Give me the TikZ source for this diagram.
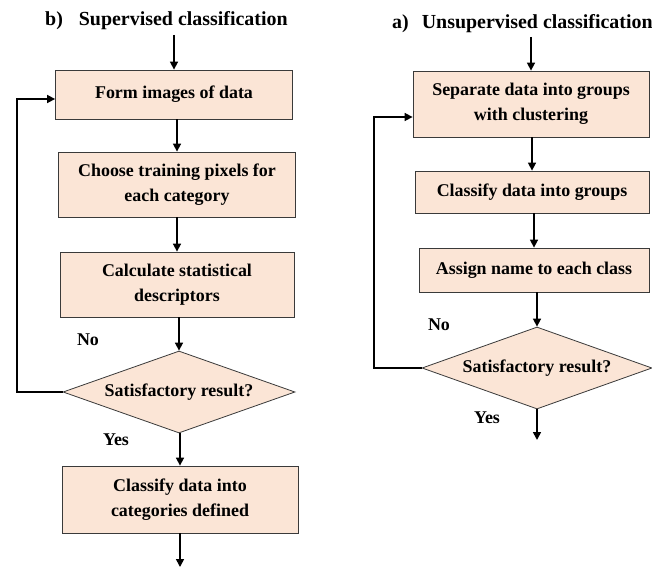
\documentclass[tikz,border=0pt]{standalone}
\usepackage{fontspec}
\setmainfont{Liberation Serif}
\usetikzlibrary{shapes.geometric,arrows.meta}
\definecolor{peach}{HTML}{FBE5D6}
\definecolor{edge}{HTML}{3A3A3A}
\begin{document}
\begin{tikzpicture}[x=1bp,y=-1bp,
  every node/.style={font=\fontsize{18}{25}\selectfont\bfseries},
  stepbox/.style={draw=edge,fill=peach,line width=0.8bp,inner sep=0pt,align=center},
  decision/.style={diamond,aspect=2.83,draw=edge,fill=peach,line width=0.8bp,inner sep=0pt,
    minimum width=232bp,minimum height=82bp},
  title/.style={anchor=base west,inner sep=0pt,font=\fontsize{20}{24}\selectfont\bfseries},
  tag/.style={inner sep=0pt},
  flow/.style={line width=1.6bp,-{Triangle[length=8bp,width=8bp]}}]
\fill[white] (0,0) rectangle (652,568);
\useasboundingbox (0,0) rectangle (652,568);

% ---------- b) supervised classification ----------
\node[title] (Lt) at (45,26) {b)\hspace{16bp}Supervised classification};
\node[stepbox,minimum width=237bp,minimum height=49bp] (L1) at (174,94.5) {Form images of data};
\node[stepbox,minimum width=237bp,minimum height=65bp] (L2) at (177,184.5) {Choose training pixels for\\each category};
\node[stepbox,minimum width=234bp,minimum height=65bp] (L3) at (177,284.5) {Calculate statistical\\descriptors};
\node[decision] (LD) at (179,392) {Satisfactory result?};
\node[stepbox,minimum width=236bp,minimum height=67bp] (L4) at (180,499.5) {Classify data into\\categories defined};
\node[tag] (Lno) at (88,340) {No};
\node[tag] (Lyes) at (116,440) {Yes};

\coordinate (Lin) at (174,35);
\coordinate (Lend) at (180,567);
\coordinate (Lloop) at (17,99);

\draw[flow] (Lin) -- (L1.north);
\draw[flow] (L2.north |- L1.south) -- (L2.north);
\draw[flow] (L3.north |- L2.south) -- (L3.north);
\draw[flow] (LD.north |- L3.south) -- (LD.north);
\draw[flow] (L4.north |- LD.south) -- (L4.north);
\draw[flow] (L4.south) -- (Lend);
\draw[flow] (LD.west) -| (Lloop) -- (L1.west |- Lloop);

% ---------- a) unsupervised classification ----------
\node[title] (Rt) at (392,29) {a)\hspace{13bp}Unsupervised classification};
\node[stepbox,minimum width=236bp,minimum height=66bp] (R1) at (531,104) {Separate data into groups\\with clustering};
\node[stepbox,minimum width=234bp,minimum height=42bp] (R2) at (532,192) {Classify data into groups};
\node[stepbox,minimum width=230bp,minimum height=44bp] (R3) at (534,270) {Assign name to each class};
\node[decision,minimum width=230bp] (RD) at (537,368) {Satisfactory result?};
\node[tag] (Rno) at (439,325) {No};
\node[tag] (Ryes) at (487,418) {Yes};

\coordinate (Rin) at (531,37);
\coordinate (Rend) at (537,440);
\coordinate (Rloop) at (374,117);

\draw[flow] (Rin) -- (R1.north);
\draw[flow] (R2.north |- R1.south) -- (R2.north);
\draw[flow] (R3.north |- R2.south) -- (R3.north);
\draw[flow] (RD.north |- R3.south) -- (RD.north);
\draw[flow] (RD.south) -- (Rend);
\draw[flow] (RD.west) -| (Rloop) -- (R1.west |- Rloop);
\end{tikzpicture}
\end{document}
